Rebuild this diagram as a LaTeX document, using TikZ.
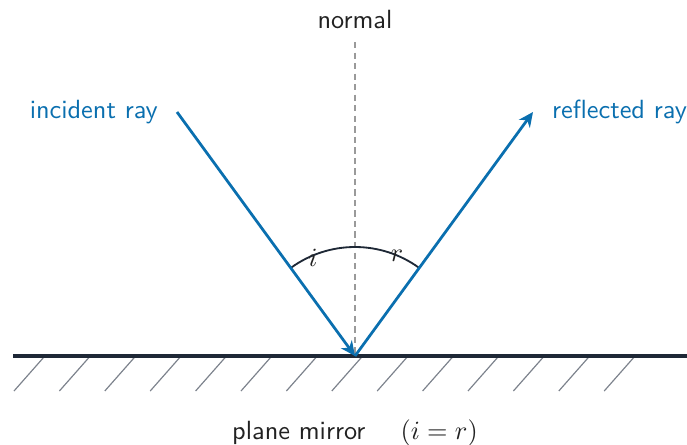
\documentclass[tikz,border=0pt]{standalone}
\usetikzlibrary{arrows.meta}
\definecolor{raycol}{HTML}{0A6FAF}
\definecolor{darkcol}{HTML}{1E2836}
\definecolor{textcol}{HTML}{222222}
\definecolor{hatchcol}{HTML}{7C828C}
\definecolor{normcol}{HTML}{9A9A9A}
\tikzset{
  ray/.style={draw=raycol, line width=1.05pt, -{Stealth[length=5.6pt,width=5.2pt]}},
  mirrorline/.style={draw=darkcol, line width=1.15pt},
  hatchline/.style={draw=hatchcol, line width=0.45pt},
  normline/.style={draw=normcol, line width=0.55pt, dash pattern=on 2.4pt off 1.6pt},
  anglearc/.style={draw=darkcol, line width=0.7pt},
  lbl/.style={font=\sffamily, text=textcol, inner sep=1pt},
  raylbl/.style={font=\sffamily, text=raycol, inner sep=1pt},
}
\begin{document}
\begin{tikzpicture}[x=0.38pt,y=-0.38pt]
\useasboundingbox (0,0) rectangle (687,445);
% key points
\coordinate (O) at (355,356);
\coordinate (A) at (177,112);
\coordinate (B) at (533,112);
\coordinate (N) at (355,42);
\coordinate (ML) at (13,356);
\coordinate (MR) at (687,356);
% normal
\draw[normline] (N) -- (O);
% hatches
\foreach \k in {0,...,13} {
  \coordinate (h\k) at ({44+\k*45.4},357);
  \coordinate (g\k) at ({14+\k*45.4},391);
  \draw[hatchline] (h\k) -- (g\k);
}
% mirror
\draw[mirrorline] (ML) -- (MR);
% arc
\draw[anglearc] (O) ++(-126.1:109) arc[start angle=-126.1, end angle=-53.9, radius=109];
% rays
\draw[ray] (A) -- (O);
\draw[ray] (O) -- (B);
% labels
\node[lbl] (normal) at (355,20) {normal};
\node[raylbl, anchor=east] (inc) at (161,112) {incident ray};
\node[raylbl, anchor=west] (refl) at (549,112) {reflected ray};
\node[inner sep=0pt, text=textcol] (ilbl) at (313,258) {$i$};
\node[inner sep=0pt, text=textcol] (rlbl) at (397,256) {$r$};
\node[lbl] (cap) at (355,433) {plane mirror\quad\ $(i=r)$};
\end{tikzpicture}
\end{document}
